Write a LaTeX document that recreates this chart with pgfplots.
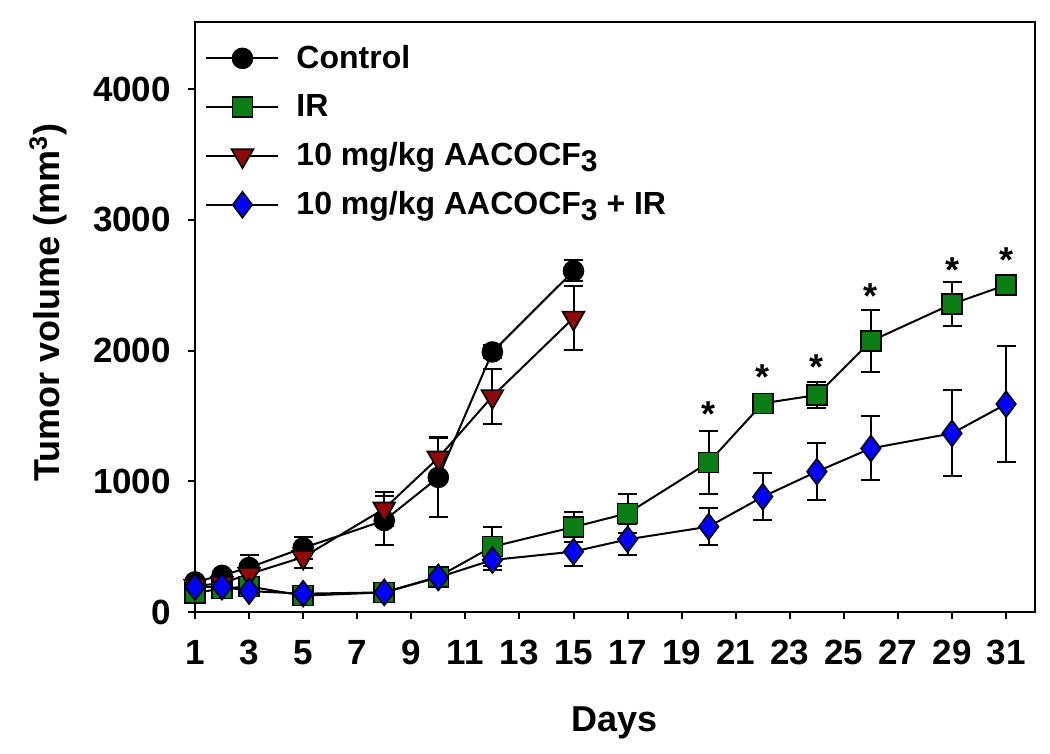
\documentclass[border=0pt]{standalone}
\usepackage{pgfplots}
\pgfplotsset{compat=1.18}
\usepackage{fontspec}
\setmainfont{Liberation Sans}

\definecolor{ctrl}{RGB}{0,0,0}
\definecolor{irgreen}{RGB}{10,125,20}
\definecolor{drugred}{RGB}{145,10,10}
\definecolor{comboblue}{RGB}{0,0,255}

\newcommand{\sub}[1]{{\fontsize{15}{15}\selectfont\raisebox{-0.35ex}{#1}}}

\begin{document}
\begin{tikzpicture}
\begin{axis}[
    scale only axis,
    width=420pt, height=295pt,
    xmin=1, xmax=32.07,
    ymin=0, ymax=4515,
    clip=false,
    axis line style={line width=1.2pt},
    xtick={1,3,...,31},
    ytick={0,1000,...,4000},
    xtick pos=bottom, ytick pos=left,
    tick align=outside,
    major tick length=3.5pt,
    tick style={line width=1pt, black},
    /pgf/number format/assume math mode=true,
    /pgf/number format/1000 sep={},
    tick label style={font=\fontsize{17.5}{20}\selectfont\bfseries},
    xticklabel shift=7pt,
    yticklabel shift=5pt,
    xlabel={Days},
    ylabel={Tumor volume (mm\textsuperscript{3})},
    label style={font=\fontsize{18}{21}\selectfont\bfseries},
    xlabel style={at={(axis description cs:0.5,-0.188)}, anchor=center},
    ylabel style={at={(axis description cs:-0.175,0.525)}, anchor=center},
    legend cell align=left,
    legend style={draw=none, fill=none, at={(axis description cs:0.012,0.968)}, anchor=north west,
        font=\fontsize{16}{19}\selectfont\bfseries, row sep=7.5pt, inner sep=0pt,
        /tikz/every odd column/.append style={column sep=6.5pt}},
    legend image code/.code={
        \draw[mark repeat=2, mark phase=2] plot coordinates {(0pt,0pt) (18pt,0pt) (36pt,0pt)};
    },
    every axis plot/.append style={line width=1pt},
    error bars/y dir=both, error bars/y explicit,
    error bars/error bar style={line width=1pt, black},
    error bars/error mark options={rotate=90, mark size=4.75pt, line width=1pt, black},
]
% Control
\addplot[black, mark=*, mark size=5pt, mark options={fill=ctrl, draw=black, line width=0.8pt}]
    coordinates {
        (1,230) +- (0,30)
        (2,280) +- (0,30)
        (3,340) +- (0,95)
        (5,490) +- (0,85)
        (8,700) +- (0,190)
        (10,1030) +- (0,300)
        (12,1990) +- (0,50)
        (15,2610) +- (0,80)
    };
% IR
\addplot[black, mark=square*, mark size=5pt, mark options={fill=irgreen, draw=black, line width=0.8pt}]
    coordinates {
        (1,145) +- (0,20)
        (2,180) +- (0,20)
        (3,195) +- (0,25)
        (5,125) +- (0,20)
        (8,150) +- (0,20)
        (10,270) +- (0,30)
        (12,500) +- (0,150)
        (15,650) +- (0,115)
        (17,755) +- (0,150)
        (20,1145) +- (0,240)
        (22,1597) +- (0,30)
        (24,1660) +- (0,100)
        (26,2073) +- (0,240)
        (29,2357) +- (0,165)
        (31,2502) +- (0,30)
    };
% 10 mg/kg AACOCF3
\addplot[black, mark=triangle*, mark size=6.3pt, mark options={rotate=180, fill=drugred, draw=black, line width=0.8pt}]
    coordinates {
        (1,200) +- (0,25)
        (2,220) +- (0,25)
        (3,290) +- (0,40)
        (5,420) +- (0,80)
        (8,790) +- (0,130)
        (10,1180) +- (0,160)
        (12,1650) +- (0,210)
        (15,2250) +- (0,245)
    };
% 10 mg/kg AACOCF3 + IR
\addplot[black, mark=diamond*, mark size=6.5pt, mark options={fill=comboblue, draw=black, line width=0.8pt}]
    coordinates {
        (1,190) +- (0,20)
        (2,194) +- (0,20)
        (3,160) +- (0,20)
        (5,140) +- (0,20)
        (8,150) +- (0,20)
        (10,265) +- (0,30)
        (12,398) +- (0,80)
        (15,462) +- (0,110)
        (17,556) +- (0,120)
        (20,653) +- (0,140)
        (22,882) +- (0,180)
        (24,1074) +- (0,220)
        (26,1252) +- (0,245)
        (29,1367) +- (0,330)
        (31,1591) +- (0,445)
    };
% significance asterisks
\addplot[draw=none, mark=none, forget plot, error bars/y dir=none,
    nodes near coords={\textbf{*}},
    every node near coord/.append style={anchor=center, inner sep=0pt, yshift=-3.5pt,
        font=\fontsize{18}{18}\selectfont\bfseries}]
    coordinates {
        (20,1571)
        (22,1852)
        (24,1928)
        (26,2471)
        (29,2670)
        (31,2749)
    };
\legend{Control, IR, 10 mg/kg AACOCF\sub{3}, 10 mg/kg AACOCF\sub{3} + IR}
\end{axis}
\pgfresetboundingbox
\path ([shift={(-97.5pt,-71pt)}]current axis.south west) rectangle ([shift={(7.5pt,11pt)}]current axis.north east);
\end{tikzpicture}
\end{document}
